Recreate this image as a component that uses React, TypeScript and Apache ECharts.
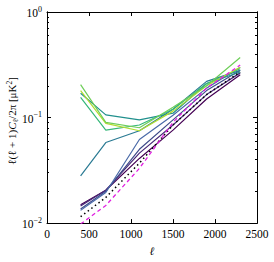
import React, { useEffect, useRef } from "react";
import * as echarts from "echarts";

const ells = [400, 700, 1100, 1500, 1900, 2300];

const lightGreen = [0.205, 0.09, 0.08, 0.125, 0.2, 0.37];
const yellowGreen = [0.18, 0.088, 0.075, 0.115, 0.2, 0.3];
const green = [0.155, 0.076, 0.085, 0.12, 0.21, 0.29];
const teal = [0.17, 0.106, 0.095, 0.11, 0.21, 0.27];
const tealBlue = [0.028, 0.058, 0.075, 0.12, 0.22, 0.28];
const blue = [0.0132, 0.0195, 0.062, 0.105, 0.19, 0.3];
const indigo = [0.0136, 0.02, 0.05, 0.095, 0.18, 0.28];
const purple = [0.0145, 0.0205, 0.046, 0.085, 0.165, 0.265];
const darkPurple = [0.0149, 0.0205, 0.041, 0.076, 0.15, 0.255];
const dottedBlack = [0.0115, 0.0175, 0.037, 0.085, 0.165, 0.27];
const dashedMagenta = [0.0098, 0.0147, 0.033, 0.09, 0.19, 0.315];

const yMinorTicks = [0.02, 0.03, 0.04, 0.05, 0.06, 0.07, 0.08, 0.09, 0.2, 0.3, 0.4, 0.5, 0.6, 0.7, 0.8, 0.9];

const FONT = "Liberation Serif";

export default function App() {
  const ref = useRef<HTMLDivElement>(null);
  useEffect(() => {
    if (!ref.current) return;
    const chart = echarts.init(ref.current, null, { renderer: "svg" });
    const mk = (name: string, data: number[], color: string, type: any = "solid", width = 1.2) => ({
      name,
      type: "line",
      data: ells.map((x, i) => [x, data[i]]),
      showSymbol: false,
      symbol: "none",
      lineStyle: { color, width, type },
      xAxisIndex: 0,
      yAxisIndex: 0,
      z: 3,
    });
    const axisLineStyle = { show: true, lineStyle: { color: "#000", width: 1 } };
    const yLabel = (v: number) => {
      const e = Math.round(Math.log10(v));
      return `{b|10}{s|${e < 0 ? "−" : ""}${Math.abs(e)}}`;
    };
    const yRich = {
      b: { fontSize: 11.5, fontFamily: FONT, color: "#000", lineHeight: 14, verticalAlign: "bottom" },
      s: { fontSize: 8, fontFamily: FONT, color: "#000", lineHeight: 14, verticalAlign: "top" },
    };
    const yBase = (position: string, ticks: any, labels: boolean) => ({
      type: "log",
      logBase: 10,
      min: 0.01,
      max: 1,
      position,
      axisLine: axisLineStyle,
      splitLine: { show: false },
      axisTick: ticks,
      axisLabel: labels
        ? { show: true, formatter: yLabel, rich: yRich, margin: 5 }
        : { show: false },
    });
    chart.setOption({
      animation: false,
      backgroundColor: "#fff",
      grid: { left: 47, right: 17, top: 12, bottom: 34 },
      xAxis: [
        {
          type: "value",
          min: 0,
          max: 2500,
          interval: 500,
          position: "bottom",
          axisLine: axisLineStyle,
          splitLine: { show: false },
          axisTick: { show: true, inside: true, length: 4, lineStyle: { color: "#000" } },
          axisLabel: {
            show: true,
            fontFamily: FONT,
            fontSize: 11.5,
            color: "#000",
            margin: 5,
            formatter: (v: number) => String(v),
          },
          name: "ℓ",
          nameLocation: "middle",
          nameGap: 19,
          nameTextStyle: { fontFamily: FONT, fontStyle: "italic", fontSize: 11.5, color: "#000" },
        },
        {
          type: "value",
          min: 0,
          max: 2500,
          interval: 500,
          position: "top",
          axisLine: axisLineStyle,
          splitLine: { show: false },
          axisTick: { show: true, inside: true, length: 4, lineStyle: { color: "#000" } },
          axisLabel: { show: false },
        },
      ],
      yAxis: [
        yBase("left", { show: true, inside: true, length: 4, lineStyle: { color: "#000" } }, true),
        yBase("left", { show: true, inside: true, length: 2, lineStyle: { color: "#000" }, customValues: yMinorTicks }, false),
        yBase("right", { show: true, inside: true, length: 4, lineStyle: { color: "#000" } }, false),
        yBase("right", { show: true, inside: true, length: 2, lineStyle: { color: "#000" }, customValues: yMinorTicks }, false),
      ],
      graphic: [
        {
          type: "text",
          x: 12,
          y: 121,
          rotation: Math.PI / 2,
          style: {
            text: "{t|ℓ(ℓ + 1)}{i|C}{sub|ℓ}{t|/2π [μK}{sup|2}{t|]}",
            align: "center",
            verticalAlign: "middle",
            rich: {
              t: { fontFamily: FONT, fontSize: 11, fill: "#000", lineHeight: 14, verticalAlign: "middle" },
              i: { fontFamily: FONT, fontSize: 11, fontStyle: "italic", fill: "#000", lineHeight: 14, verticalAlign: "middle" },
              sub: { fontFamily: FONT, fontSize: 7.5, fill: "#000", lineHeight: 14, verticalAlign: "bottom" },
              sup: { fontFamily: FONT, fontSize: 7.5, fill: "#000", lineHeight: 14, verticalAlign: "top" },
            },
          },
        },
      ],
      series: [
        mk("darkPurple", darkPurple, "#440154"),
        mk("purple", purple, "#482878"),
        mk("indigo", indigo, "#3e4a89"),
        mk("blue", blue, "#4a6aa8"),
        mk("tealBlue", tealBlue, "#2a7a93"),
        mk("teal", teal, "#21908d"),
        mk("green", green, "#35b779"),
        mk("yellowGreen", yellowGreen, "#b0dd2f"),
        mk("lightGreen", lightGreen, "#6ece58"),
        mk("dotted", dottedBlack, "#000", [1.5, 3], 1.5),
        mk("dashed", dashedMagenta, "#e020e0", [4, 3], 1.3),
      ],
    });
    return () => chart.dispose();
  }, []);
  return (
    <div
      ref={ref}
      style={{ position: "fixed", left: 0, top: 0, width: 274, height: 262, background: "#fff" }}
    />
  );
}
